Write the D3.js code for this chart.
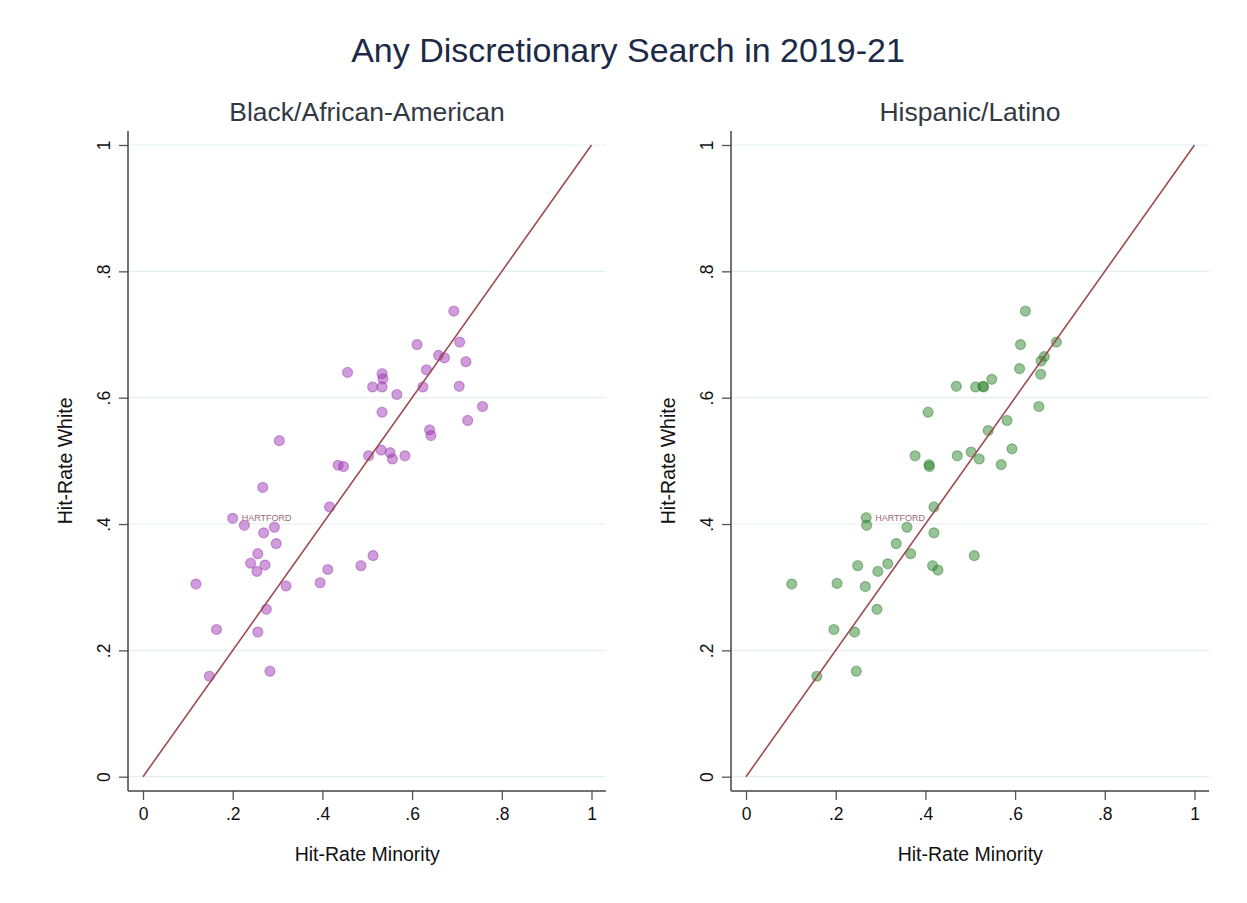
<!DOCTYPE html>
<html>
<head>
<meta charset="utf-8">
<script src="https://cdn.jsdelivr.net/npm/d3@7/dist/d3.min.js"></script>
<style>
  html, body { margin: 0; padding: 0; background: #ffffff; }
  svg { display: block; font-family: "Liberation Sans", Arial, sans-serif; }
</style>
</head>
<body>
<svg id="chart" width="1247" height="903"></svg>
<script>
// Hit rates by department: [minority, white]
const blackPoints = [
  [0.118, 0.305], [0.164, 0.233], [0.148, 0.159], [0.200, 0.409], [0.226, 0.398],
  [0.293, 0.395], [0.269, 0.386], [0.297, 0.369], [0.256, 0.353], [0.240, 0.338],
  [0.272, 0.335], [0.254, 0.325], [0.319, 0.302], [0.395, 0.307], [0.412, 0.328],
  [0.486, 0.334], [0.513, 0.350], [0.275, 0.265], [0.256, 0.229], [0.283, 0.167],
  [0.267, 0.458], [0.304, 0.532], [0.416, 0.427], [0.435, 0.493], [0.447, 0.491],
  [0.503, 0.508], [0.456, 0.640], [0.512, 0.617], [0.533, 0.638], [0.535, 0.630],
  [0.533, 0.617], [0.533, 0.577], [0.531, 0.517], [0.551, 0.513], [0.556, 0.503],
  [0.584, 0.508], [0.566, 0.605], [0.611, 0.684], [0.624, 0.617], [0.632, 0.644],
  [0.639, 0.549], [0.642, 0.540], [0.659, 0.667], [0.672, 0.663], [0.693, 0.737],
  [0.706, 0.688], [0.705, 0.618], [0.720, 0.657], [0.724, 0.564], [0.757, 0.586]
];
const hispanicPoints = [
  [0.623, 0.737], [0.612, 0.684], [0.692, 0.688], [0.665, 0.665], [0.658, 0.658],
  [0.610, 0.646], [0.657, 0.637], [0.548, 0.629], [0.469, 0.618], [0.512, 0.617],
  [0.530, 0.617], [0.528, 0.618], [0.653, 0.586], [0.406, 0.577], [0.582, 0.564],
  [0.540, 0.548], [0.593, 0.519], [0.502, 0.514], [0.377, 0.508], [0.471, 0.508],
  [0.520, 0.503], [0.569, 0.494], [0.408, 0.494], [0.409, 0.491], [0.419, 0.427],
  [0.268, 0.410], [0.269, 0.398], [0.359, 0.395], [0.419, 0.386], [0.335, 0.369],
  [0.509, 0.350], [0.367, 0.353], [0.249, 0.334], [0.316, 0.337], [0.294, 0.325],
  [0.416, 0.334], [0.428, 0.327], [0.102, 0.305], [0.203, 0.306], [0.266, 0.301],
  [0.292, 0.265], [0.196, 0.233], [0.242, 0.229], [0.246, 0.167], [0.158, 0.159]
];
// Labelled department in each panel
const blackLabelled = [0.200, 0.409];
const hispanicLabelled = [0.268, 0.410];
const labelName = "HARTFORD";

const tickValues = [0, 0.2, 0.4, 0.6, 0.8, 1];
const tickLabels = ["0", ".2", ".4", ".6", ".8", "1"];
const panelTitles = ["Black/African-American", "Hispanic/Latino"];
const chartTitle = "Any Discretionary Search in 2019-21";
const xTitle = "Hit-Rate Minority";
const yTitle = "Hit-Rate White";

const svg = d3.select("#chart");

svg.append("text")
  .attr("x", 628).attr("y", 62)
  .attr("text-anchor", "middle")
  .attr("font-size", 34)
  .attr("fill", "#1c2a48")
  .text(chartTitle);

function drawPanel(axisLeft, points, labelled, title, fill, stroke) {
  const axisRight = axisLeft + 478;
  const axisTop = 131, axisBottom = 791;
  const x = d3.scaleLinear().domain([0, 1]).range([axisLeft + 15, axisLeft + 463.5]);
  const y = d3.scaleLinear().domain([0, 1]).range([776.7, 145]);
  const g = svg.append("g");

  // subtitle
  g.append("text")
    .attr("x", (axisLeft + axisRight) / 2).attr("y", 121)
    .attr("text-anchor", "middle")
    .attr("font-size", 26.5)
    .attr("fill", "#333a44")
    .text(title);

  // horizontal grid
  g.selectAll("line.grid").data(tickValues).join("line")
    .attr("class", "grid")
    .attr("x1", axisLeft).attr("x2", axisRight)
    .attr("y1", d => y(d)).attr("y2", d => y(d))
    .attr("stroke", "#e6eff0").attr("stroke-width", 1.2);

  // y axis
  const yAxis = d3.axisLeft(y).tickValues(tickValues)
    .tickFormat((d, i) => tickLabels[i]).tickSize(9).tickPadding(0);
  const ya = g.append("g").attr("transform", `translate(${axisLeft},0)`).call(yAxis);
  ya.select(".domain").remove();
  ya.selectAll(".tick line").attr("stroke", "#555").attr("stroke-width", 1.3);
  ya.selectAll(".tick text")
    .attr("font-size", 17.5).attr("fill", "#111")
    .attr("text-anchor", "middle")
    .attr("transform", "translate(-24,0) rotate(-90)")
    .attr("x", 0).attr("dy", "0.35em");
  g.append("line")
    .attr("x1", axisLeft).attr("x2", axisLeft)
    .attr("y1", axisTop).attr("y2", axisBottom)
    .attr("stroke", "#444").attr("stroke-width", 1.5);

  // x axis
  const xAxis = d3.axisBottom(x).tickValues(tickValues)
    .tickFormat((d, i) => tickLabels[i]).tickSize(9).tickPadding(8);
  const xa = g.append("g").attr("transform", `translate(0,${axisBottom})`).call(xAxis);
  xa.select(".domain").remove();
  xa.selectAll(".tick line").attr("stroke", "#555").attr("stroke-width", 1.3);
  xa.selectAll(".tick text").attr("font-size", 17.5).attr("fill", "#111");
  g.append("line")
    .attr("x1", axisLeft).attr("x2", axisRight)
    .attr("y1", axisBottom).attr("y2", axisBottom)
    .attr("stroke", "#444").attr("stroke-width", 1.5);

  // axis titles
  g.append("text")
    .attr("x", x(0.5)).attr("y", 861)
    .attr("text-anchor", "middle").attr("font-size", 19.5).attr("fill", "#111")
    .text(xTitle);
  g.append("text")
    .attr("transform", `translate(${axisLeft - 56},${y(0.5)}) rotate(-90)`)
    .attr("text-anchor", "middle").attr("font-size", 19.5).attr("fill", "#111")
    .text(yTitle);

  // points
  g.selectAll("circle.pt").data(points).join("circle")
    .attr("class", "pt")
    .attr("cx", d => x(d[0])).attr("cy", d => y(d[1]))
    .attr("r", 5)
    .attr("fill", fill).attr("fill-opacity", 0.5)
    .attr("stroke", stroke).attr("stroke-opacity", 0.4).attr("stroke-width", 1.2);

  // 45-degree reference line
  g.append("line")
    .attr("x1", x(0)).attr("y1", y(0))
    .attr("x2", x(1)).attr("y2", y(1))
    .attr("stroke", "#9e4a50").attr("stroke-width", 1.6);

  // department label
  g.append("text")
    .attr("x", x(labelled[0]) + 9).attr("y", y(labelled[1]))
    .attr("dy", "0.35em")
    .attr("font-size", 9).attr("fill", "#9a6a7a")
    .text(labelName);
}

drawPanel(128, blackPoints, blackLabelled, panelTitles[0], "#a33ab8", "#8a2aa0");
drawPanel(731, hispanicPoints, hispanicLabelled, panelTitles[1], "#2f8a2f", "#1e6e1e");
</script>
</body>
</html>
